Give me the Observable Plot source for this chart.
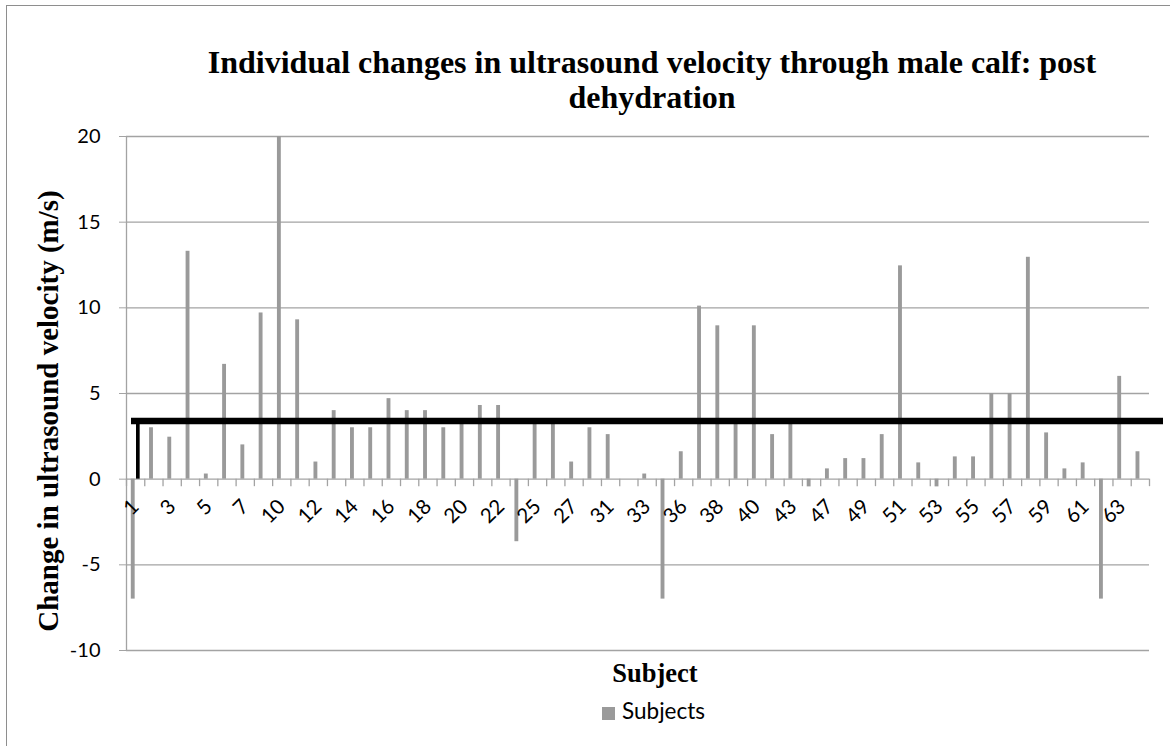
<!DOCTYPE html>
<html>
<head>
<meta charset="utf-8">
<script src="https://cdn.jsdelivr.net/npm/d3@7"></script>
<script src="https://cdn.jsdelivr.net/npm/@observablehq/plot@0.6"></script>
<style>
  html, body { margin: 0; padding: 0; background: #fff; overflow: hidden; }
  #wrap { position: relative; width: 1170px; height: 746px; }
  #chart { position: absolute; left: 0; top: 0; }
  .frame { position: absolute; left: 6px; top: 5px; width: 1200px; height: 800px; border: 1.3px solid #8e8e8e; pointer-events: none; }
  .serif { font-family: "Liberation Serif", "Times New Roman", serif; font-weight: bold; color: #000; }
  #title { position: absolute; left: 152px; top: 45px; width: 1000px; text-align: center; font-size: 32px; line-height: 35px; }
  #xlabel { position: absolute; left: 555px; top: 660px; width: 200px; text-align: center; font-size: 26.5px; line-height: 1; }
  #ylabel { position: absolute; left: 47.5px; top: 411px; transform: translate(-50%, -50%) rotate(-90deg); white-space: nowrap; font-size: 29px; line-height: 1; }
  #legend { position: absolute; left: 602px; top: 700px; display: flex; align-items: center; font-family: Lato, sans-serif; font-size: 22.5px; line-height: 1; color: #000; }
  #legend .sw { width: 13px; height: 13px; background: #9a9a9a; margin-right: 7px; margin-top: 4px; }
</style>
</head>
<body>
<div id="wrap">
  <div id="chart"></div>
  <div class="frame"></div>
  <div id="title" class="serif">Individual changes in ultrasound velocity through male calf: post<br>dehydration</div>
  <div id="ylabel" class="serif">Change in ultrasound velocity (m/s)</div>
  <div id="xlabel" class="serif">Subject</div>
  <div id="legend"><div class="sw"></div><span>Subjects</span></div>
</div>
<script>
// Subject IDs (categories, in order along the x axis)
const subjects = ["1","2","3","4","5","6","7","8","10","11","12","13","14","15","16","17","18","19","20","21","22","23","25","26","27","29","31","32","33","34","36","37","38","39","40","41","43","45","47","48","49","50","51","52","53","54","55","56","57","58","59","60","61","62","63","64"];
// Change in ultrasound velocity (m/s) per subject
const changes = [-7.0, 3.0, 2.45, 13.3, 0.3, 6.7, 2.0, 9.7, 20.0, 9.3, 1.0, 4.0, 3.0, 3.0, 4.7, 4.0, 4.0, 3.0, 3.4, 4.3, 4.3, -3.65, 3.2, 3.4, 1.0, 3.0, 2.6, 0, 0.3, -7.0, 1.6, 10.1, 8.95, 3.4, 8.95, 2.6, 3.2, -0.45, 0.6, 1.2, 1.2, 2.6, 12.45, 0.95, -0.45, 1.3, 1.3, 5.0, 5.0, 12.95, 2.7, 0.6, 0.95, -7.0, 6.0, 1.6];
// Subject labels shown on the x axis (every other category)
const labelledSubjects = ["1","3","5","7","10","12","14","16","18","20","22","25","27","31","33","36","38","40","43","47","49","51","53","55","57","59","61","63"];
// Y axis ticks
const yTicks = [-10, -5, 0, 5, 10, 15, 20];
// Mean change (black reference line)
const meanChange = [3.4];

const data = subjects.map((s, i) => ({subject: s, change: changes[i]}));
const labelData = labelledSubjects.map(s => ({subject: s}));

const W = 1170, H = 746, mL = 126, mR = 21, mT = 136, mB = 96;
const step = (W - mL - mR) / subjects.length;
const pxPerUnit = (H - mT - mB) / (yTicks[yTicks.length - 1] - yTicks[0]);
const tickLen = 7.5 / pxPerUnit;
const gridColor = "#a3a3a3";
const barColor = "#9a9a9a";

const chart = Plot.plot({
  width: W, height: H,
  marginLeft: mL, marginRight: mR, marginTop: mT, marginBottom: mB,
  style: {fontFamily: "Lato, sans-serif", fontSize: "20px", background: "transparent", overflow: "visible"},
  x: {type: "band", domain: subjects, padding: 0, round: false, axis: null},
  y: {domain: [yTicks[0], yTicks[yTicks.length - 1]], axis: null},
  marks: [
    Plot.ruleY(yTicks, {stroke: gridColor, strokeWidth: 1.3}),
    Plot.ruleX([subjects[0]], {y1: yTicks[0], y2: yTicks[yTicks.length - 1], dx: -step / 2, stroke: gridColor, strokeWidth: 1.3}),
    Plot.ruleX(subjects, {x: d => d, y1: 0, y2: -tickLen, dx: -step / 2, stroke: gridColor, strokeWidth: 1.3}),
    Plot.ruleX([subjects[subjects.length - 1]], {x: d => d, y1: 0, y2: -tickLen, dx: step / 2, stroke: gridColor, strokeWidth: 1.3}),
    Plot.axisY({ticks: yTicks, tickSize: 7, tickPadding: 19, stroke: gridColor, fill: "black", fontSize: 20, label: null, tickFormat: d => String(d)}),
    Plot.barY(data, {x: "subject", y: "change", fill: barColor, insetLeft: 4.8, insetRight: 9.6}),
    Plot.barY([{subject: subjects[0], change: meanChange[0]}], {x: "subject", y: "change", fill: "black", insetLeft: 10, insetRight: 4.6}),
    Plot.ruleY(meanChange, {stroke: "black", strokeWidth: 6.5, insetLeft: 5, insetRight: -14}),
    Plot.text(labelData, {x: "subject", y: 0, text: "subject", rotate: -45, textAnchor: "end", dy: 24, fontSize: 20.5, fill: "black"})
  ]
});
document.getElementById("chart").appendChild(chart);
</script>
</body>
</html>
